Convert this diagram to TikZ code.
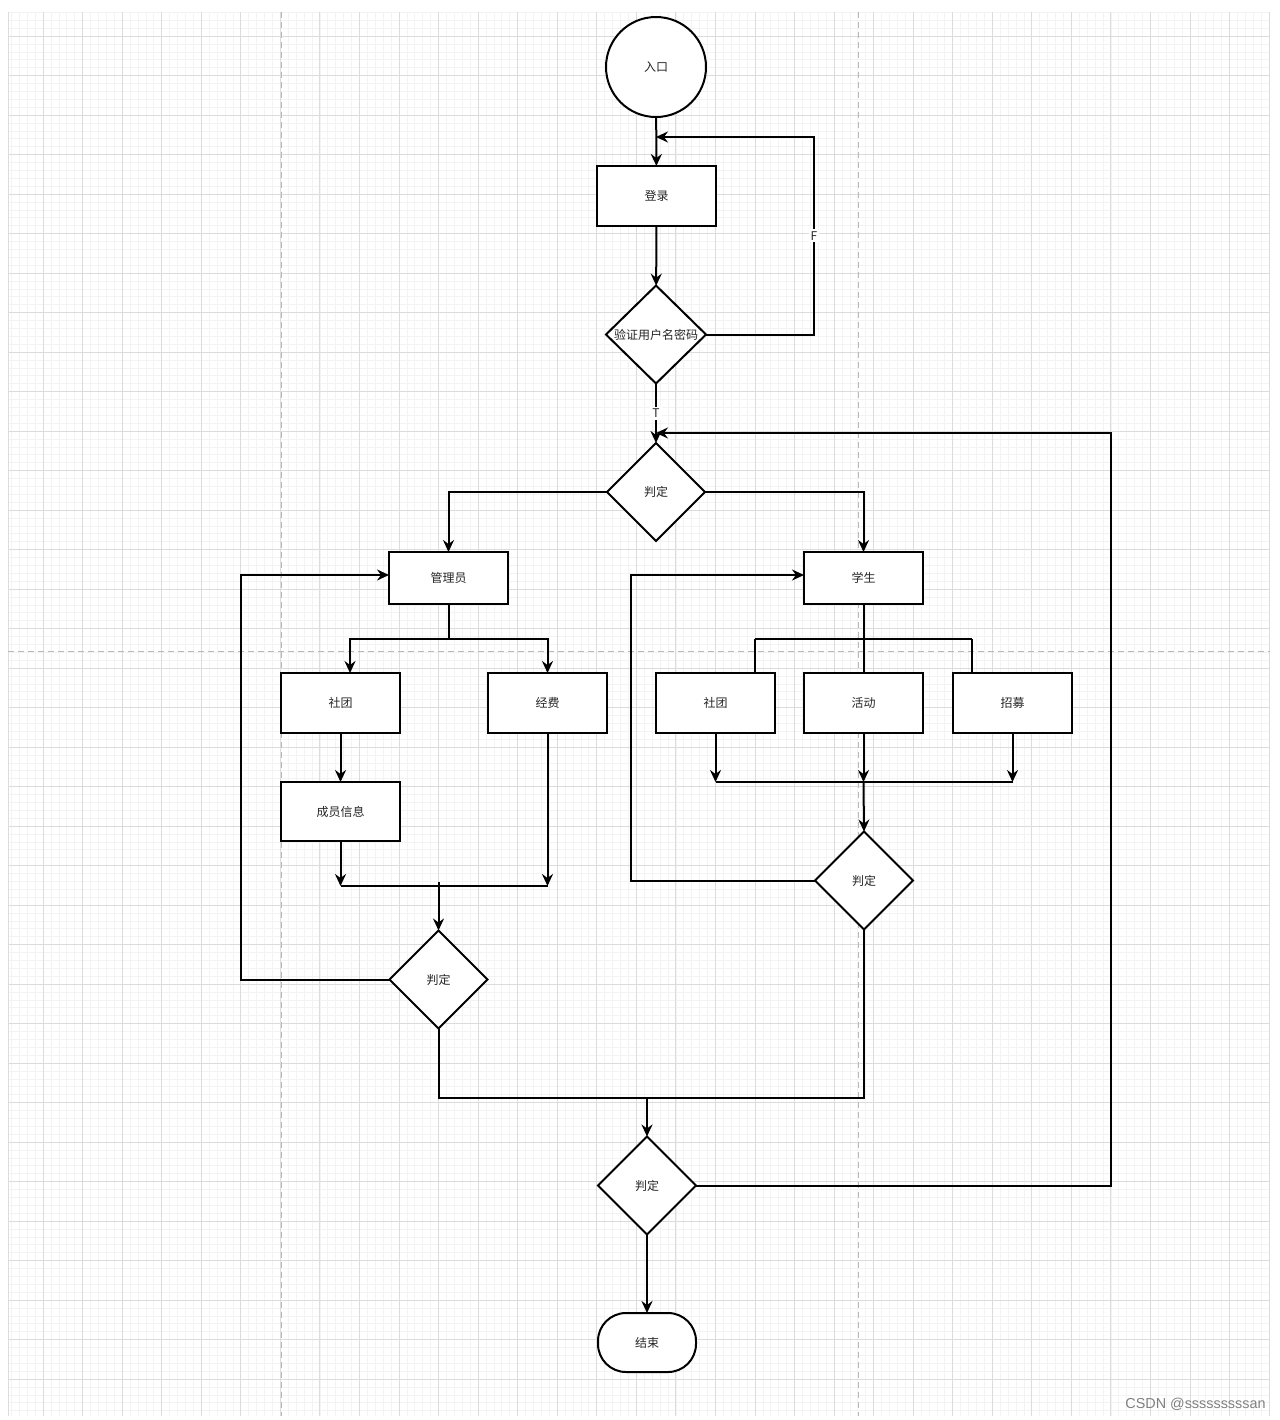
\documentclass[tikz,border=0pt]{standalone}
\usepackage{fontspec}
\setmainfont{Noto Sans CJK SC}
\newfontfamily\wmfont{Liberation Sans}
\usetikzlibrary{shapes.geometric,arrows.meta}
\definecolor{gminor}{HTML}{F3F3F3}
\definecolor{gmajor}{HTML}{DCDCDC}
\definecolor{gdash}{HTML}{B8B8B8}
\definecolor{txt}{HTML}{262626}
\tikzset{
  box/.style={draw=black,line width=1pt,fill=white,rectangle,inner sep=0pt,outer sep=0pt,
    minimum width=59.5pt,minimum height=30pt,font=\fontsize{6pt}{7pt}\selectfont,text=txt},
  dia/.style={draw=black,line width=1pt,fill=white,diamond,inner sep=0pt,outer sep=0pt,
    minimum width=49pt,minimum height=49pt,font=\fontsize{6pt}{7pt}\selectfont,text=txt},
  conn/.style={line width=1pt,draw=black},
  arr/.style={conn,-{Stealth[length=6pt,width=5.5pt,inset=2pt]}},
  lbl/.style={fill=white,inner sep=1pt,font=\fontsize{6pt}{7pt}\selectfont,text=txt},
}
\begin{document}
\begin{tikzpicture}[x=0.5pt,y=-0.5pt]
\useasboundingbox (0,0) rectangle (1280,1420);
\fill[white] (0,0) rectangle (1280,1420);
% grid
\foreach \i in {-4,...,155}{\pgfmathsetmacro\xx{43+7.91*\i}\draw[gminor,line width=0.3pt] (\xx,12) -- (\xx,1416);}
\foreach \j in {-3,...,174}{\pgfmathsetmacro\yy{36+7.9*\j}\draw[gminor,line width=0.3pt] (8,\yy) -- (1270,\yy);}
\foreach \i in {0,...,31}{\pgfmathsetmacro\xx{43+39.55*\i}\draw[gmajor,line width=0.4pt] (\xx,12) -- (\xx,1416);}
\foreach \j in {0,...,34}{\pgfmathsetmacro\yy{36+39.5*\j}\draw[gmajor,line width=0.4pt] (8,\yy) -- (1270,\yy);}
\draw[gmajor,line width=0.4pt] (8,12) -- (8,1416);
\draw[gdash,line width=0.5pt,dash pattern=on 3pt off 2pt] (281,12) -- (281,1416);
\draw[gdash,line width=0.5pt,dash pattern=on 3pt off 2pt] (858,12) -- (858,1416);
\draw[gdash,line width=0.5pt,dash pattern=on 3pt off 2pt] (8,651) -- (1270,651);

% nodes
\node[draw=black,line width=1pt,fill=white,circle,minimum size=50pt,inner sep=0pt,outer sep=0pt,
  font=\fontsize{6pt}{7pt}\selectfont,text=txt] (start) at (656,67) {入口};
\node[box] (login) at (656.5,196) {登录};
\node[dia,minimum width=50pt] (verify) at (656,334.5) {\makebox[0pt]{验证用户名密码}};
\node[dia] (judge1) at (656,492) {\makebox[0pt]{判定}};
\node[box,minimum height=26pt] (admin) at (448.5,578) {管理员};
\node[box,minimum height=26pt] (student) at (863.5,578) {学生};
\node[box] (club1) at (340.5,703) {社团};
\node[box] (fund) at (547.5,703) {经费};
\node[box,minimum height=29.5pt] (member) at (340.5,811.5) {成员信息};
\node[dia] (judgeL) at (438.5,979.5) {\makebox[0pt]{判定}};
\node[box] (club2) at (715.5,703) {社团};
\node[box] (act) at (863.5,703) {活动};
\node[box] (recruit) at (1012.5,703) {招募};
\node[dia] (judgeR) at (864,880.5) {\makebox[0pt]{判定}};
\node[dia] (judgeB) at (647,1185.5) {\makebox[0pt]{判定}};
\node[draw=black,line width=1pt,fill=white,rectangle,rounded corners=14pt,minimum width=49pt,
  minimum height=29.5pt,inner sep=0pt,outer sep=0pt,font=\fontsize{6pt}{7pt}\selectfont,text=txt] (end) at (647,1342.5) {结束};

% coordinates
\coordinate (floop) at (656,137);
\coordinate (fcorner) at (814,137);
\coordinate (jin) at (656,433);
\coordinate (rloop) at (1111,433);
\coordinate (aj) at (448.5,639);
\coordinate (c1in) at (350,673);
\coordinate (mL) at (340.5,886);
\coordinate (mR) at (547.5,886);
\coordinate (mC) at (438.5,882);
\coordinate (lloop) at (241,575);
\coordinate (sj) at (863.5,639);
\coordinate (s1) at (755,673);
\coordinate (s3) at (972,673);
\coordinate (nL) at (715.5,782);
\coordinate (nC) at (863.5,782);
\coordinate (nR) at (1012.5,782);
\coordinate (rlp) at (631,575);
\coordinate (bj) at (647,1098);

% connectors
\draw[arr] (start) -- (login);
\draw[arr] (login) -- (verify);
\draw[arr] (verify.east) -- (verify.east -| fcorner) -- node[lbl]{F} (fcorner) -- (floop);
\draw[arr] (verify.south) -- node[lbl,pos=0.5]{T} (judge1.north);
\draw[arr] (judge1.west) -| (admin.north);
\draw[arr] (judge1.east) -| (student.north);
\draw[conn] (admin.south) -- (aj);
\draw[arr] (aj) -| (c1in);
\draw[arr] (aj) -| (fund.north);
\draw[arr] (club1) -- (member);
\draw[arr] (member.south) -- (mL);
\draw[arr] (fund.south) -- (mR);
\draw[conn] (mL) -- (mR);
\draw[arr] (mC) -- (judgeL.north);
\draw[arr] (judgeL.west) -| (lloop) -- (lloop -| admin.west);
\draw[conn] (student.south) -- (sj);
\draw[conn] (sj -| s1) -- (sj -| s3);
\draw[conn] (sj -| s1) -- (s1);
\draw[conn] (sj) -- (act.north);
\draw[conn] (sj -| s3) -- (s3);
\draw[arr] (club2.south) -- (nL);
\draw[arr] (act.south) -- (nC);
\draw[arr] (recruit.south) -- (nR);
\draw[conn] (nL) -- (nR);
\draw[arr] (nC) -- (judgeR.north);
\draw[arr] (judgeR.west) -| (rlp) -- (rlp -| student.west);
\draw[conn] (judgeL.south) |- (bj) -| (judgeR.south);
\draw[arr] (bj) -- (judgeB.north);
\draw[arr] (judgeB.east) -- (judgeB.east -| rloop) -- (rloop) -- (jin);
\draw[arr] (judgeB.south) -- (end.north);

% watermark
\node[anchor=east,inner sep=0pt,font=\wmfont\fontsize{7.2pt}{8pt}\selectfont,text=black!50] (wm) at (1266,1404) {CSDN @sssssssssan};
\end{tikzpicture}
\end{document}
